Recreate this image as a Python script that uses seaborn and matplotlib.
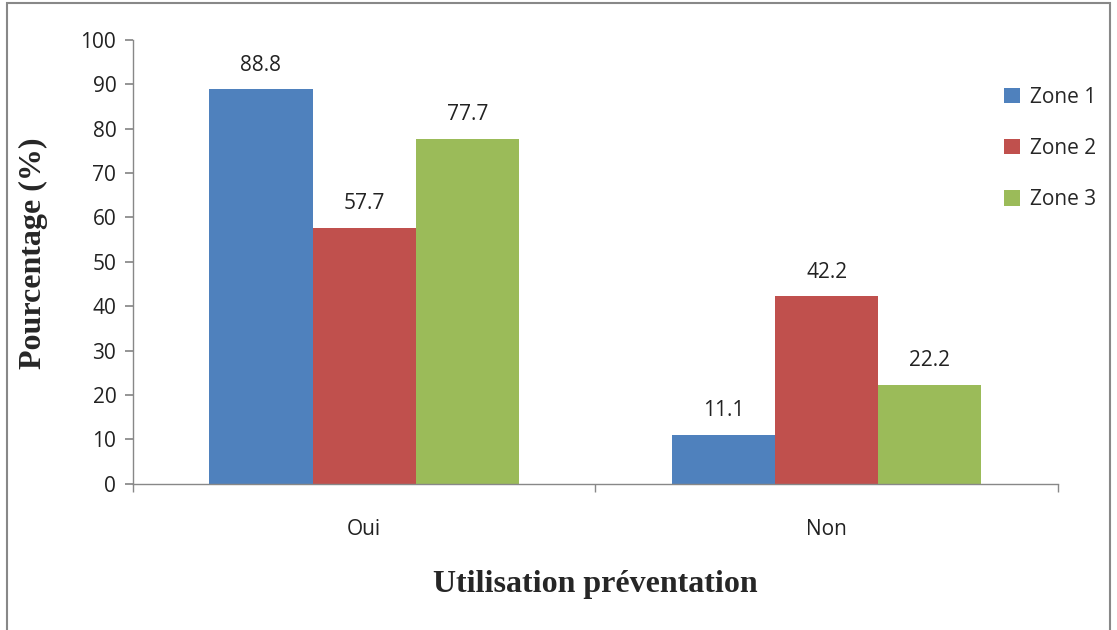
import pandas as pd
import matplotlib.pyplot as plt
import seaborn as sns

# Values
categories = ['Oui', 'Non']
zones = ['Zone 1', 'Zone 2', 'Zone 3']
zone1 = [88.8, 11.1]
zone2 = [57.7, 42.2]
zone3 = [77.7, 22.2]
colors = ['#4F81BD', '#C0504D', '#9BBB59']

data = pd.DataFrame({
    'categorie': categories * 3,
    'zone': [z for z in zones for _ in categories],
    'valeur': zone1 + zone2 + zone3,
})

sns.set_theme(style='white')
plt.rcParams['font.family'] = ['Open Sans', 'DejaVu Sans']

fig = plt.figure(figsize=(11.17, 6.3), dpi=100)
ax = fig.add_axes([0.119, 0.232, 0.828, 0.705])

sns.barplot(data=data, x='categorie', y='valeur', hue='zone',
            palette=colors, width=0.67, saturation=1, linewidth=0, ax=ax)

for c in ax.containers:
    ax.bar_label(c, fmt='%.1f', padding=10, fontsize=15, color='#222222')

ax.set_ylim(0, 100)
ax.set_xlim(-0.5, 1.5)
ax.set_yticks(range(0, 101, 10))
ax.set_xticks([-0.5, 0.5, 1.5], minor=True)
ax.tick_params(axis='x', which='major', length=0, pad=25, labelsize=15)
ax.tick_params(axis='x', which='minor', length=6, color='#888888', bottom=True)
ax.tick_params(axis='y', length=6, color='#888888', left=True, labelsize=15, pad=6)
for t in ax.get_yticklabels() + ax.get_xticklabels():
    t.set_color('#222222')

for s in ['top', 'right']:
    ax.spines[s].set_visible(False)
for s in ['left', 'bottom']:
    ax.spines[s].set_color('#888888')
    ax.spines[s].set_linewidth(1)

ax.set_ylabel('Pourcentage (%)', fontsize=23, fontweight='bold',
              family='Liberation Serif')
ax.yaxis.set_label_coords(-0.092, 0.52)
ax.set_xlabel('Utilisation préventation', fontsize=23, fontweight='bold',
              family='Liberation Serif')
ax.xaxis.set_label_coords(0.5, -0.194)

ax.legend(loc='upper left', bbox_to_anchor=(0.882, 0.892),
          bbox_transform=fig.transFigure, frameon=False, fontsize=15,
          handlelength=0.75, handleheight=0.75, labelspacing=1.45,
          handletextpad=0.5, title=None)

# grey frame around the chart area
fig.patches.append(plt.Rectangle((0.006, -0.01), 0.988, 1.005, fill=False,
                                 edgecolor='#888888', linewidth=1.5,
                                 transform=fig.transFigure))

fig.savefig('out.png', dpi=100)
